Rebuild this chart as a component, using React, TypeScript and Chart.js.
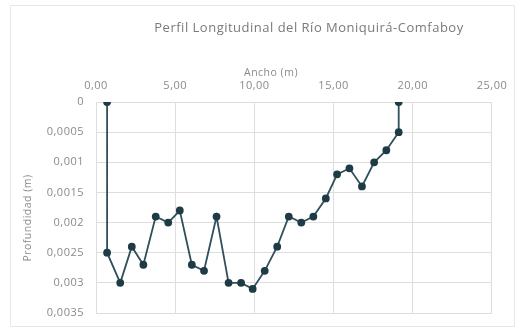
import React, { useEffect, useRef } from "react";
import { Chart, registerables } from "chart.js";

Chart.register(...registerables);

// Ancho (m) y profundidad (m) de cada punto del perfil
const anchos = [0.7, 0.7, 1.53, 2.26, 2.99, 3.77, 4.56, 5.29, 6.05, 6.82, 7.61, 8.37, 9.16, 9.89, 10.65, 11.44, 12.17, 12.96, 13.72, 14.51, 15.22, 16.0, 16.79, 17.56, 18.33, 19.11, 19.11];
const profundidades = [0, 0.0025, 0.003, 0.0024, 0.0027, 0.0019, 0.002, 0.0018, 0.0027, 0.0028, 0.0019, 0.003, 0.003, 0.0031, 0.0028, 0.0024, 0.0019, 0.002, 0.0019, 0.0016, 0.0012, 0.0011, 0.0014, 0.001, 0.0008, 0.0005, 0];

const titulo = "Perfil Longitudinal del Río Moniquirá-Comfaboy";
const tituloX = "Ancho (m)";
const tituloY = "Profundidad (m)";

// Espaciado de letras algo abierto para todos los textos del lienzo
const espaciado = {
  id: "espaciado",
  beforeDraw(chart: any) {
    chart.ctx.letterSpacing = "0.5px";
  },
};

// Títulos del gráfico y de los ejes, colocados como en la plantilla original
const rotulos = {
  id: "rotulos",
  afterDraw(chart: any) {
    const ctx = chart.ctx;
    ctx.save();
    ctx.letterSpacing = "0.5px";
    ctx.textAlign = "center";
    ctx.textBaseline = "middle";
    ctx.fillStyle = "#7a7a7a";
    ctx.font = "13px 'Open Sans'";
    ctx.fillText(titulo, 309, 28);
    ctx.fillStyle = "#8a8a8a";
    ctx.font = "10.5px 'Open Sans'";
    ctx.fillText(tituloX, 271, 73);
    ctx.translate(28, 218);
    ctx.rotate(-Math.PI / 2);
    ctx.fillText(tituloY, 0, 0);
    ctx.restore();
  },
};

export default function App() {
  const ref = useRef<HTMLCanvasElement | null>(null);

  useEffect(() => {
    if (!ref.current) return;
    const gris = "#8a8a8a";
    const rejilla = "#dedede";
    const chart = new Chart(ref.current, {
      type: "line",
      data: {
        datasets: [
          {
            data: anchos.map((x, i) => ({ x, y: profundidades[i] })),
            borderColor: "#2f505b",
            borderWidth: 1.8,
            pointRadius: 3,
            pointBackgroundColor: "#1f3b45",
            pointBorderColor: "#1f3b45",
            tension: 0,
          },
        ],
      },
      options: {
        animation: false,
        responsive: false,
        layout: { padding: { left: 12, right: 18, bottom: 20, top: 62 } },
        plugins: {
          legend: { display: false },
          tooltip: { enabled: false },
          title: { display: false },
        },
        scales: {
          x: {
            type: "linear",
            position: "top",
            min: 0,
            max: 25,
            ticks: {
              stepSize: 5,
              color: gris,
              padding: 10,
              font: { family: "Open Sans", size: 11 },
              callback: (v: any) => Number(v).toFixed(2).replace(".", ","),
            },
            grid: { color: rejilla, drawTicks: false },
            border: { color: rejilla },
            afterFit: (s: any) => {
              s.height = 40;
            },
          },
          y: {
            type: "linear",
            reverse: true,
            min: 0,
            max: 0.0035,
            ticks: {
              stepSize: 0.0005,
              color: gris,
              padding: 12,
              font: { family: "Open Sans", size: 11 },
              callback: (v: any) => String(Number(Number(v).toFixed(4))).replace(".", ","),
            },
            grid: { color: rejilla, drawTicks: false },
            border: { color: rejilla },
            afterFit: (s: any) => {
              s.width = 84;
            },
          },
        },
      },
      plugins: [espaciado, rotulos],
    });
    return () => chart.destroy();
  }, []);

  return (
    <div style={{ position: "fixed", left: 0, top: 0, width: 516, height: 333, background: "#fff" }}>
      <div
        style={{
          position: "absolute",
          left: 10,
          top: 5,
          width: 505,
          height: 322,
          border: "1px solid #e8e8e8",
          boxSizing: "border-box",
        }}
      />
      <canvas ref={ref} width={516} height={333} style={{ position: "absolute", left: 0, top: 0 }} />
    </div>
  );
}
